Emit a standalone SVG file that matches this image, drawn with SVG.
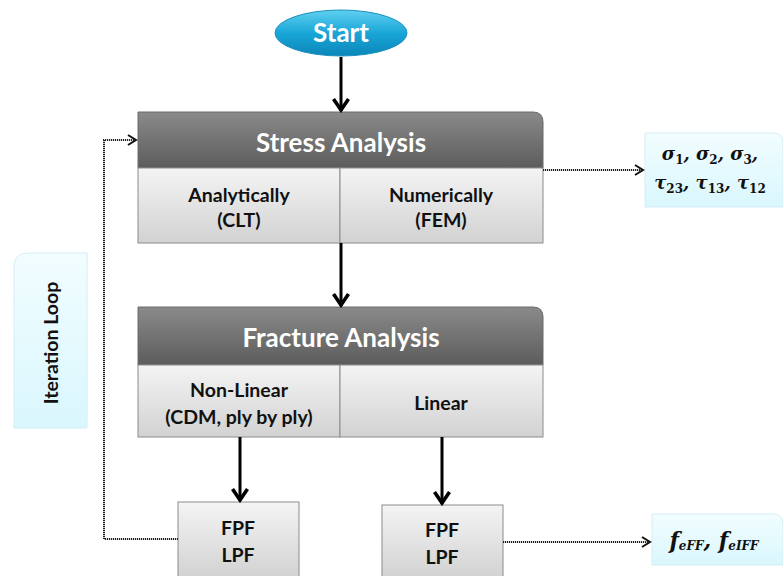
<svg xmlns="http://www.w3.org/2000/svg" width="783" height="576" viewBox="0 0 783 576">
<defs>
<linearGradient id="gHead" x1="0" y1="0" x2="0" y2="1"><stop offset="0" stop-color="#8a8a8a"/><stop offset="1" stop-color="#5c5c5c"/></linearGradient>
<linearGradient id="gCell" x1="0" y1="0" x2="0" y2="1"><stop offset="0" stop-color="#f4f4f4"/><stop offset="1" stop-color="#d2d2d2"/></linearGradient>
<linearGradient id="gStart" x1="0" y1="0" x2="0" y2="1"><stop offset="0" stop-color="#5fd0f0"/><stop offset="0.5" stop-color="#1aa6d8"/><stop offset="1" stop-color="#0b86b8"/></linearGradient>
<linearGradient id="gNote" x1="0" y1="0" x2="0" y2="1"><stop offset="0" stop-color="#f2fdff"/><stop offset="1" stop-color="#d9f7fd"/></linearGradient>
<marker id="aSolid" viewBox="0 0 16 18" refX="14" refY="9" markerWidth="16" markerHeight="18" markerUnits="userSpaceOnUse" orient="auto">
<path d="M2,1.5 L13,9 L2,16.5" fill="none" stroke="#000" stroke-width="3.6" stroke-linejoin="miter"/>
</marker>
<marker id="aOpen" viewBox="0 0 12 12" refX="10" refY="6" markerWidth="12" markerHeight="12" markerUnits="userSpaceOnUse" orient="auto">
<path d="M2,1 L10,6 L2,11" fill="none" stroke="#111" stroke-width="2"/>
</marker>
</defs>
<style>
.hdr{fill:url(#gHead);stroke:#6a6a6a;stroke-width:1}
.cell{fill:url(#gCell);stroke:#8c8c8c;stroke-width:1}
.note{fill:url(#gNote);stroke:#d4eef4;stroke-width:1}
.ht{font-family:Lato,"Open Sans","Liberation Sans",sans-serif;font-weight:bold;fill:#fff;text-anchor:middle;font-size:26px}
.ct{font-family:Lato,"Open Sans","Liberation Sans",sans-serif;font-weight:bold;fill:#111;text-anchor:middle;font-size:19.5px}
.mt{font-family:"DejaVu Serif","Liberation Serif",serif;font-weight:bold;font-style:italic;fill:#111;text-anchor:middle}
.sub{font-style:normal}
.solid{stroke:#000;stroke-width:3;fill:none}
.dot{stroke:#222;stroke-width:2;stroke-dasharray:1.2 0.8;fill:none}
</style>
<rect width="783" height="576" fill="#fff"/>

<g id="start">
<ellipse cx="341" cy="33" rx="66" ry="23" fill="url(#gStart)" stroke="#1b8fbd" stroke-width="1"/>
<text class="ht" x="341" y="42">Start</text>
</g>

<g id="stress">
<path class="hdr" d="M138,112 H533 Q543,112 543,122 V168 H138 Z"/>
<rect class="cell" x="138" y="168" width="202" height="75"/>
<rect class="cell" x="340" y="168" width="203" height="75"/>
<text class="ht" x="341" y="152">Stress Analysis</text>
<text class="ct" x="239" y="202">Analytically</text>
<text class="ct" x="239" y="227">(CLT)</text>
<text class="ct" x="441" y="202">Numerically</text>
<text class="ct" x="441" y="227">(FEM)</text>
</g>

<g id="fracture">
<path class="hdr" d="M138,307 H533 Q543,307 543,317 V365 H138 Z"/>
<rect class="cell" x="138" y="365" width="202" height="72"/>
<rect class="cell" x="340" y="365" width="203" height="72"/>
<text class="ht" x="341" y="347">Fracture Analysis</text>
<text class="ct" x="239" y="397">Non-Linear</text>
<text class="ct" x="239" y="424">(CDM, ply by ply)</text>
<text class="ct" x="441" y="410">Linear</text>
</g>

<g id="fpf1">
<rect class="cell" x="178" y="502" width="121" height="76"/>
<text class="ct" x="238" y="535">FPF</text>
<text class="ct" x="238" y="562">LPF</text>
</g>

<g id="fpf2">
<rect class="cell" x="382" y="505" width="121" height="73"/>
<text class="ct" x="442" y="537">FPF</text>
<text class="ct" x="442" y="564">LPF</text>
</g>

<g id="iteration">
<path class="note" d="M28,253 H87 V428 H14 V267 Q14,253 28,253 Z"/>
<text class="ct" transform="translate(58,343) rotate(-90)">Iteration Loop</text>
</g>

<g id="stresses">
<path class="note" d="M645,133 H773 Q783,133 783,143 V207 H645 Z"/>
<text class="mt" x="710" y="160" font-size="18">σ<tspan class="sub" font-size="12" dy="4">1</tspan><tspan dy="-4">, σ</tspan><tspan class="sub" font-size="12" dy="4">2</tspan><tspan dy="-4">, σ</tspan><tspan class="sub" font-size="12" dy="4">3</tspan><tspan dy="-4">,</tspan></text>
<text class="mt" x="710" y="189" font-size="18">τ<tspan class="sub" font-size="12" dy="4">23</tspan><tspan dy="-4">, τ</tspan><tspan class="sub" font-size="12" dy="4">13</tspan><tspan dy="-4">, τ</tspan><tspan class="sub" font-size="12" dy="4">12</tspan></text>
</g>

<g id="failure">
<path class="note" d="M652,514 H773 Q783,514 783,524 V565 H652 Z"/>
<text class="mt" x="714" y="548" font-size="22">f<tspan font-size="12" dy="2">eFF</tspan><tspan dy="-2">, f</tspan><tspan font-size="12" dy="2">eIFF</tspan></text>
</g>

<g id="connectors">
<line class="solid" x1="341" y1="57" x2="341" y2="111" marker-end="url(#aSolid)"/>
<line class="solid" x1="341" y1="243" x2="341" y2="306" marker-end="url(#aSolid)"/>
<line class="solid" x1="240" y1="437" x2="240" y2="501" marker-end="url(#aSolid)"/>
<line class="solid" x1="442" y1="437" x2="442" y2="504" marker-end="url(#aSolid)"/>
<polyline class="dot" points="178,539 104,539 104,140 136,140" marker-end="url(#aOpen)"/>
<line class="dot" x1="543" y1="170" x2="643" y2="170" marker-end="url(#aOpen)"/>
<line class="dot" x1="503" y1="542" x2="650" y2="542" marker-end="url(#aOpen)"/>
</g>
</svg>
